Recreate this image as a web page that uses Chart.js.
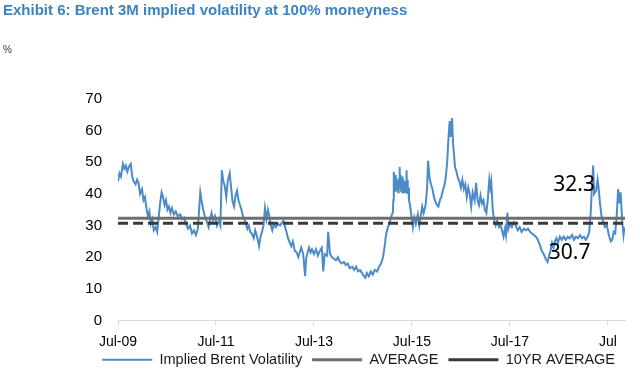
<!DOCTYPE html>
<html>
<head>
<meta charset="utf-8">
<script src="https://cdn.jsdelivr.net/npm/chart.js@4.4.1/dist/chart.umd.min.js"></script>
<style>
  html, body { margin: 0; padding: 0; background: #fff; overflow: hidden; }
  #chart { display: block; }
</style>
</head>
<body>
<canvas id="chart" width="640" height="383"></canvas>
<script>
// Dates as decimal years (Jul-09 = 2009.5)
const dates = [
    2009.50, 2009.53, 2009.56, 2009.60, 2009.63, 2009.66, 2009.69, 2009.72, 2009.76, 2009.79,
    2009.82, 2009.86, 2009.89, 2009.92, 2009.95, 2009.99, 2010.02, 2010.05, 2010.08, 2010.11,
    2010.14, 2010.17, 2010.20, 2010.23, 2010.27, 2010.30, 2010.33, 2010.36, 2010.39, 2010.42,
    2010.45, 2010.48, 2010.51, 2010.54, 2010.57, 2010.60, 2010.64, 2010.68, 2010.72, 2010.77,
    2010.81, 2010.85, 2010.89, 2010.93, 2010.97, 2011.01, 2011.05, 2011.09, 2011.13, 2011.16,
    2011.18, 2011.21, 2011.24, 2011.28, 2011.32, 2011.35, 2011.38, 2011.41, 2011.44, 2011.48,
    2011.52, 2011.56, 2011.59, 2011.62, 2011.65, 2011.68, 2011.71, 2011.74, 2011.78, 2011.81,
    2011.84, 2011.87, 2011.90, 2011.93, 2011.96, 2011.99, 2012.02, 2012.05, 2012.08, 2012.11,
    2012.14, 2012.17, 2012.20, 2012.23, 2012.27, 2012.30, 2012.33, 2012.36, 2012.38, 2012.41,
    2012.44, 2012.47, 2012.50, 2012.53, 2012.56, 2012.59, 2012.62, 2012.65, 2012.68, 2012.72,
    2012.77, 2012.81, 2012.85, 2012.88, 2012.91, 2012.94, 2012.97, 2013.01, 2013.04, 2013.07,
    2013.11, 2013.15, 2013.18, 2013.21, 2013.24, 2013.28, 2013.32, 2013.34, 2013.37, 2013.40,
    2013.43, 2013.46, 2013.50, 2013.54, 2013.58, 2013.62, 2013.66, 2013.69, 2013.72, 2013.77,
    2013.79, 2013.83, 2013.87, 2013.91, 2013.95, 2013.99, 2014.03, 2014.07, 2014.11, 2014.15,
    2014.19, 2014.23, 2014.28, 2014.32, 2014.36, 2014.40, 2014.44, 2014.48, 2014.52, 2014.55,
    2014.58, 2014.62, 2014.66, 2014.70, 2014.74, 2014.79, 2014.83, 2014.87, 2014.91, 2014.94,
    2014.97, 2015.01, 2015.05, 2015.09, 2015.11, 2015.12, 2015.13, 2015.14, 2015.15, 2015.16,
    2015.17, 2015.18, 2015.19, 2015.20, 2015.21, 2015.22, 2015.23, 2015.24, 2015.25, 2015.26,
    2015.27, 2015.28, 2015.29, 2015.30, 2015.31, 2015.32, 2015.33, 2015.34, 2015.35, 2015.36,
    2015.37, 2015.38, 2015.39, 2015.40, 2015.41, 2015.42, 2015.43, 2015.44, 2015.46, 2015.49,
    2015.52, 2015.55,
    2015.58, 2015.62, 2015.65, 2015.68, 2015.71, 2015.74, 2015.78, 2015.81, 2015.83, 2015.86,
    2015.89, 2015.92, 2015.95, 2015.98, 2016.01, 2016.04, 2016.07, 2016.10, 2016.13, 2016.16,
    2016.19, 2016.22, 2016.24, 2016.27, 2016.29, 2016.32, 2016.34, 2016.38, 2016.41, 2016.44,
    2016.47, 2016.50, 2016.53, 2016.56, 2016.59, 2016.62, 2016.65, 2016.68, 2016.71, 2016.74,
    2016.78, 2016.81, 2016.84, 2016.87, 2016.90, 2016.93, 2016.96, 2016.99, 2017.02, 2017.05,
    2017.08, 2017.10, 2017.12, 2017.15, 2017.18, 2017.21, 2017.24, 2017.28, 2017.31, 2017.34,
    2017.37, 2017.40, 2017.42, 2017.45, 2017.47, 2017.50, 2017.54, 2017.58, 2017.62, 2017.66,
    2017.70, 2017.74, 2017.79, 2017.83, 2017.87, 2017.91, 2017.95, 2017.99, 2018.03, 2018.07,
    2018.11, 2018.15, 2018.19, 2018.23, 2018.27, 2018.30, 2018.33, 2018.36, 2018.39, 2018.42,
    2018.45, 2018.48, 2018.52, 2018.56, 2018.60, 2018.64, 2018.68, 2018.72, 2018.77, 2018.81,
    2018.85, 2018.89, 2018.93, 2018.97, 2019.01, 2019.05, 2019.09, 2019.12, 2019.15, 2019.18,
    2019.20, 2019.22, 2019.26, 2019.29, 2019.31, 2019.34, 2019.37, 2019.40, 2019.44, 2019.48,
    2019.52, 2019.56, 2019.59, 2019.62, 2019.65, 2019.68, 2019.71, 2019.74, 2019.76, 2019.79,
    2019.82, 2019.84
];

const impliedVol = [
    44.0, 46.5, 45.5, 49.5, 48.0, 49.0, 47.0, 48.5, 49.5, 45.5,
    44.0, 43.0, 44.5, 43.5, 40.0, 41.5, 38.0, 39.0, 35.5, 33.0,
    34.5, 30.5, 32.0, 28.5, 29.5, 28.0, 32.5, 37.0, 40.5, 39.0,
    36.5, 38.0, 35.0, 36.0, 34.0, 35.5, 33.5, 34.5, 33.0, 33.5,
    32.0, 32.5, 30.5, 29.0, 30.0, 27.5, 28.5, 27.0, 29.0, 36.0,
    40.5, 37.5, 35.0, 32.5, 31.0, 29.5, 32.0, 34.0, 31.5, 33.0,
    30.0, 31.5, 30.0, 47.5, 44.0, 42.5, 39.0, 44.0, 46.5, 42.0,
    37.5, 36.0, 39.5, 41.0, 38.0, 36.5, 35.0, 33.0, 32.0, 30.5,
    29.0, 30.0, 28.0, 27.5, 26.0, 28.5, 27.0, 25.0, 23.5, 26.5,
    28.0, 30.0, 35.5, 32.0, 35.0, 33.0, 30.0, 28.5, 30.5, 29.5,
    30.5, 30.0, 31.0, 31.5, 29.5, 28.0, 26.0, 24.5, 23.5, 25.0,
    22.0, 21.5, 20.0, 21.5, 23.0, 21.0, 14.0, 19.5, 21.5, 23.0,
    21.5, 22.5, 21.0, 22.5, 20.5, 22.0, 23.0, 15.5, 21.0, 20.5,
    28.0, 21.0, 20.0, 19.5, 19.0, 20.0, 18.5, 18.0, 18.5, 17.5,
    18.0, 16.5, 17.0, 16.0, 17.0, 15.5, 16.0, 15.0, 14.0, 13.5,
    15.0, 14.0, 15.5, 14.5, 16.0, 15.5, 17.0, 18.0, 20.0, 23.0,
    27.0, 29.5, 31.0, 33.5, 34.0, 38.0, 47.0, 42.0, 45.0, 41.0,
    46.0, 42.5, 44.5, 41.5, 43.5, 40.5, 45.0, 42.0, 48.5, 42.5,
    46.0, 41.0, 44.0, 40.5, 45.5, 41.5, 44.5, 40.5, 43.0, 41.0,
    44.0, 40.5, 47.5, 41.5, 44.5, 40.0, 42.0, 38.0, 36.5, 33.0,
    29.5, 32.5,
    30.5, 33.5, 30.0, 33.0, 36.0, 34.0, 36.5, 42.0, 50.5, 45.0,
    43.0, 41.5, 39.0, 37.5, 36.5, 36.0, 38.0, 39.0, 41.0, 42.5,
    45.0, 50.0, 56.0, 63.0, 58.0, 64.0, 56.0, 48.5, 47.0, 45.0,
    44.0, 42.0, 44.5, 41.5, 43.0, 39.0, 42.0, 40.0, 36.0, 40.5,
    38.0, 43.5, 38.0, 36.5, 39.5, 37.0, 38.0, 35.0, 34.0, 38.5,
    44.5, 42.0, 44.0, 35.0, 31.5, 30.0, 31.5, 29.5, 30.0, 28.5,
    26.5, 29.0, 27.0, 34.0, 29.0, 30.5, 29.5, 31.0, 30.0, 28.5,
    29.5, 28.0, 29.0, 28.5, 29.0, 28.0, 27.5, 27.0, 26.5, 25.5,
    24.0, 22.0, 21.0, 19.5, 18.5, 20.5, 22.0, 24.5, 23.0, 25.0,
    26.0, 24.5, 26.5, 25.5, 26.5, 25.5, 26.5, 26.0, 27.0, 25.5,
    26.5, 26.0, 27.0, 26.0, 26.5, 25.5, 26.5, 28.0, 34.0, 44.0,
    49.0, 40.0, 41.0, 44.5, 42.0, 37.0, 33.0, 31.5, 29.5, 30.0,
    27.0, 25.0, 25.5, 28.0, 27.5, 33.0, 41.5, 37.0, 40.5, 32.0,
    27.0, 29.5
];

const averageAll = 32.3;
const average10yr = 30.7;
const rangeStart = 2009.5;
const rangeEnd = 2019.85;

const tickYears = [2009.5, 2011.5, 2013.5, 2015.5, 2017.5, 2019.5];
const tickLabels = ['Jul-09', 'Jul-11', 'Jul-13', 'Jul-15', 'Jul-17', 'Jul'];

const seriesNames = ['Implied Brent Volatility', 'AVERAGE', '10YR AVERAGE'];

// where the two value labels sit (data coords)
const noteValues = [averageAll, average10yr];
const noteX = [2018.81, 2018.72];
const noteY = [42.8, 21.2];

Chart.defaults.font.family = '"Liberation Sans", Arial, sans-serif';
Chart.defaults.color = '#000';

// texts 32.3 / 30.7 next to the lines
const notesPlugin = {
    id: 'notes',
    afterDatasetsDraw(chart) {
        const { ctx, scales } = chart;
        ctx.save();
        ctx.font = '21px "Noto Sans"';
        ctx.fillStyle = '#000';
        ctx.textAlign = 'center';
        ctx.textBaseline = 'middle';
        noteValues.forEach((v, i) => {
            ctx.fillText(v.toFixed(1), scales.x.getPixelForValue(noteX[i]), scales.y.getPixelForValue(noteY[i]));
        });
        ctx.restore();
    }
};

// x scale was squeezed so the legend sits closer; give its labels room again (they get clipped to the box)
const labelRoom = {
    id: 'labelRoom',
    afterLayout(chart) {
        chart.scales.x.bottom = chart.height;
    }
};

const chart = new Chart(document.getElementById('chart').getContext('2d'), {
    type: 'line',
    data: {
        datasets: [{
            label: seriesNames[0],
            data: dates.map((d, i) => ({ x: d, y: impliedVol[i] })),
            borderColor: '#4a8bc8',
            borderWidth: 2,
            pointRadius: 0,
            tension: 0,
            order: 3
        }, {
            label: seriesNames[1],
            data: [{ x: rangeStart, y: averageAll }, { x: rangeEnd, y: averageAll }],
            borderColor: '#6e6e6e',
            borderWidth: 3,
            pointRadius: 0,
            order: 2
        }, {
            label: seriesNames[2],
            data: [{ x: rangeStart, y: average10yr }, { x: rangeEnd, y: average10yr }],
            borderColor: '#3a3a3a',
            borderWidth: 3,
            borderDash: [10, 5],
            pointRadius: 0,
            order: 1
        }]
    },
    options: {
        responsive: false,
        animation: false,
        layout: { padding: { left: 3, right: 15, top: 0, bottom: 6 } },
        plugins: {
            title: {
                display: true,
                text: 'Exhibit 6: Brent 3M implied volatility at 100% moneyness',
                align: 'start',
                color: '#3b83c1',
                font: { size: 15, weight: 'bold' },
                padding: { top: 2, bottom: 0 }
            },
            subtitle: {
                display: true,
                text: '%',
                align: 'start',
                color: '#333',
                font: { size: 10 },
                padding: { top: 24, bottom: 43 }
            },
            legend: {
                position: 'bottom',
                align: 'end',
                labels: {
                    usePointStyle: true,
                    pointStyle: 'line',
                    pointStyleWidth: 50,
                    padding: 10,
                    color: '#1a1a1a',
                    font: { size: 14.5 },
                    sort: (a, b) => a.datasetIndex - b.datasetIndex
                }
            },
            tooltip: { enabled: false }
        },
        scales: {
            x: {
                type: 'linear',
                min: rangeStart,
                max: rangeEnd,
                afterBuildTicks: (scale) => {
                    scale.ticks = tickYears.map(v => ({ value: v }));
                },
                afterFit: (scale) => { scale.height = 22; },
                ticks: {
                    padding: 8,
                    font: { size: 14 },
                    color: '#000',
                    maxRotation: 0,
                    autoSkip: false,
                    callback: (value) => tickLabels[tickYears.indexOf(value)]
                },
                grid: { drawOnChartArea: false, drawTicks: true, tickLength: 5, color: '#d9d9d9' },
                border: { display: true, color: '#d9d9d9' }
            },
            y: {
                min: 0,
                max: 70,
                afterFit: (scale) => { scale.width = 115; },
                ticks: { stepSize: 10, padding: 16, font: { size: 15 }, color: '#000' },
                grid: { display: false, drawTicks: false },
                border: { display: false }
            }
        }
    },
    plugins: [notesPlugin, labelRoom]
});
</script>
</body>
</html>
